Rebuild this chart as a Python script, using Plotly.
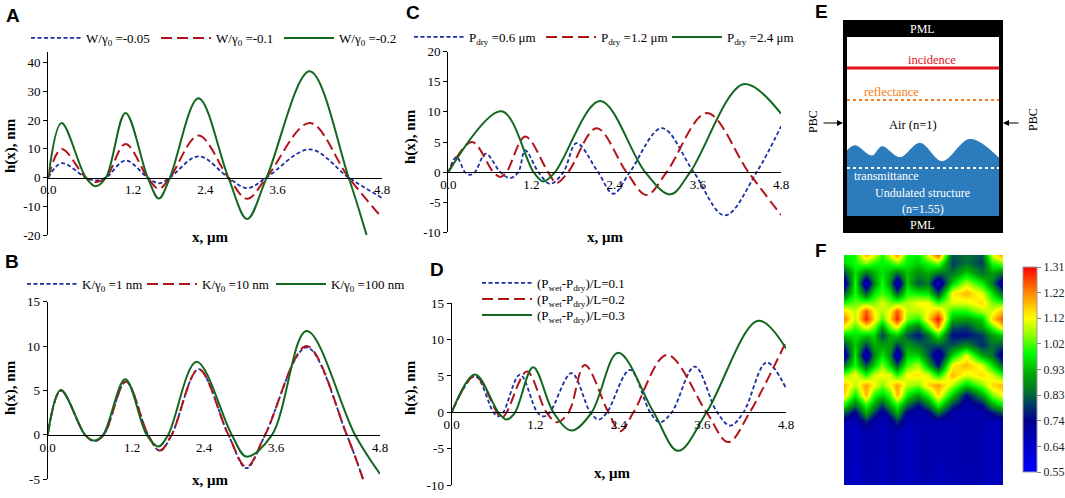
import plotly.graph_objects as go

W, H = 1065, 498

# ---------------- values ----------------
x_tick_text = ["0.0", "1.2", "2.4", "3.6", "4.8"]
x_ticks_ab = [0, 1.22, 2.26, 3.3, 4.8]   # in A and B the labels sit left of the true values
x_ticks_cd = [0, 1.2, 2.4, 3.6, 4.8]

# A : W/gamma0
a_x = [0, 0.19, 0.54, 0.68, 0.83, 1.11, 1.43, 1.59, 1.75, 2.16, 2.59, 2.86, 3.14, 3.76, 4.32, 4.80]
a_blue = [0, 5.0, 0, -1.0, 0, 5.9, 0, -2.0, 0, 7.4, 0, -3.7, 0, 9.8, 0, -7.1]
a_red = [0, 9.9, 0, -1.6, 0, 11.7, 0, -3.9, 0, 14.6, 0, -7.4, 0, 19.0, 0, -14.0]
a_green_x = [0, 0.19, 0.54, 0.68, 0.83, 1.11, 1.43, 1.59, 1.75, 2.16, 2.59, 2.86, 3.14, 3.76, 4.32, 4.58]
a_green = [0, 19.0, 0, -3.0, 0, 22.5, 0, -7.3, 0, 27.6, 0, -14.4, 0, 37.0, 0, -20.2]
a_names = ["W/γ<sub>0</sub> =-0.05", "W/γ<sub>0</sub> =-0.1", "W/γ<sub>0</sub> =-0.2"]
a_yticks = [-20, -10, 0, 10, 20, 30, 40]

# B : K/gamma0
b_x = [0, 0.19, 0.54, 0.67, 0.81, 1.13, 1.45, 1.62, 1.79, 2.18, 2.61, 2.87, 3.14, 3.74, 4.32, 4.56]
b_blue = [0, 5.0, 0, -0.7, 0, 6.0, 0, -1.8, 0, 7.4, 0, -3.75, 0, 9.85, 0, -5.1]
b_red = [0, 5.0, 0, -0.7, 0, 6.0, 0, -1.75, 0, 7.4, 0, -3.6, 0, 10.0, 0, -5.1]
b_green_x = [0, 0.19, 0.54, 0.67, 0.80, 1.12, 1.43, 1.60, 1.74, 2.15, 2.66, 2.87, 3.24, 3.74, 4.44, 4.80]
b_green = [0, 5.06, 0, -0.64, 0, 6.26, 0, -1.31, 0, 8.25, 0, -2.44, 0, 11.7, 0, -4.39]
b_names = ["K/γ<sub>0</sub> =1 nm", "K/γ<sub>0</sub> =10 nm", "K/γ<sub>0</sub> =100 nm"]
b_yticks = [-5, 0, 5, 10, 15]

# C : P_dry
c_blue_x = [0, 0.12, 0.24, 0.31, 0.385, 0.54, 0.75, 0.89, 1.01, 1.11, 1.30, 1.47, 1.66, 1.85,
            2.16, 2.38, 2.62, 3.08, 3.54, 3.99, 4.45, 4.80]
c_blue = [0, 2.5, 0, -0.45, 0, 3.05, 0, -1.0, 0, 3.6, 0, -1.95, 0, 4.8,
          0, -3.6, 0, 7.3, 0, -7.2, 0, 7.6]
c_red_x = [0, 0.34, 0.65, 0.75, 0.84, 1.11, 1.44, 1.56, 1.73, 2.14, 2.57, 2.86, 3.15, 3.73, 4.33, 4.80]
c_red = [0, 5.0, 0, -0.8, 0, 5.9, 0, -1.8, 0, 7.3, 0, -3.8, 0, 9.8, 0, -7.1]
c_green_x = [0, 0.77, 1.23, 1.37, 1.54, 2.19, 2.84, 3.20, 3.49, 4.26, 4.80]
c_green = [0, 10.1, 0, -1.55, 0, 11.8, 0, -3.7, 0, 14.6, 9.7]
c_names = ["P<sub>dry</sub> =0.6 μm", "P<sub>dry</sub> =1.2 μm", "P<sub>dry</sub> =2.4 μm"]
c_yticks = [-10, -5, 0, 5, 10, 15, 20]

# D : (P_wet-P_dry)/L
d_blue_x = [0, 0.335, 0.60, 0.67, 0.74, 0.98, 1.23, 1.32, 1.41, 1.72, 1.99, 2.11, 2.23, 2.56,
            2.85, 2.99, 3.16, 3.49, 3.81, 4.00, 4.19, 4.52, 4.80]
d_blue = [0, 5.0, 0, -0.55, 0, 5.2, 0, -0.55, 0, 5.4, 0, -1.0, 0, 5.85,
          0, -1.37, 0, 6.3, 0, -1.83, 0, 6.86, 3.3]
d_red_x = [0, 0.335, 0.65, 0.72, 0.79, 1.08, 1.36, 1.51, 1.68, 1.91, 2.25, 2.42, 2.61, 3.09,
           3.66, 3.97, 4.28, 4.80]
d_red = [0, 5.0, 0, -0.78, 0, 5.6, 0, -1.37, 0, 6.5, 0, -2.6, 0, 7.9, 0, -4.1, 0, 9.7]
d_green_x = [0, 0.335, 0.67, 0.79, 0.91, 1.17, 1.46, 1.72, 2.01, 2.39, 2.90, 3.25, 3.66, 4.40, 4.80]
d_green = [0, 5.2, 0, -1.0, 0, 6.2, 0, -2.5, 0, 8.2, 0, -5.3, 0, 12.6, 8.8]
d_names = ["(P<sub>wet</sub>-P<sub>dry</sub>)/L=0.1", "(P<sub>wet</sub>-P<sub>dry</sub>)/L=0.2",
           "(P<sub>wet</sub>-P<sub>dry</sub>)/L=0.3"]
d_yticks = [-10, -5, 0, 5, 10, 15]

# E : surface profile of the undulated structure (box units, y down)
e_wave_x = [4, 12, 29, 39, 57, 77, 99, 127, 156]
e_wave_y = [130.7, 125.7, 136, 126.7, 137.7, 123.3, 141.7, 119.3, 138.3]

# F : field map, sampled on a coarse grid (column positions / row positions, y down)
f_x = [0, 11, 22, 30, 38, 46, 53, 63, 74, 84, 94, 108, 122, 138, 148, 159]
f_y = [0, 8, 18, 28, 38, 48, 56, 64, 72, 80, 90, 100, 110, 120, 130, 140, 150, 158, 166, 176, 200, 230]
f_cols = [
    [0.98, 0.95, 0.80, 0.68, 0.82, 1.00, 1.15, 1.22, 1.12, 0.95, 0.80, 0.68, 0.85, 1.05, 1.18, 1.15, 0.98, 0.82, 0.70, 0.69, 0.69, 0.68],
    [1.00, 1.00, 0.97, 1.00, 1.00, 1.04, 1.08, 1.08, 1.02, 0.97, 0.95, 0.98, 1.00, 1.12, 1.08, 0.98, 0.85, 0.72, 0.68, 0.66, 0.66, 0.65],
    [1.18, 1.05, 0.85, 0.64, 0.82, 1.05, 1.25, 1.29, 1.12, 0.95, 0.80, 0.64, 0.82, 1.00, 1.20, 1.18, 1.00, 0.92, 0.78, 0.69, 0.69, 0.68],
    [1.10, 1.00, 0.92, 0.88, 0.97, 1.05, 1.12, 1.15, 1.05, 0.96, 0.92, 0.88, 0.95, 1.10, 1.12, 1.00, 0.90, 0.80, 0.70, 0.69, 0.69, 0.69],
    [1.00, 0.98, 0.97, 1.00, 1.02, 1.10, 1.08, 1.02, 0.90, 0.80, 0.90, 0.97, 1.05, 1.12, 1.05, 0.95, 0.80, 0.70, 0.68, 0.67, 0.67, 0.66],
    [1.10, 1.00, 0.92, 0.88, 0.97, 1.05, 1.12, 1.15, 1.05, 0.92, 0.90, 0.88, 0.95, 1.10, 1.12, 1.02, 0.92, 0.80, 0.70, 0.69, 0.69, 0.69],
    [1.20, 1.05, 0.85, 0.64, 0.82, 1.05, 1.25, 1.29, 1.12, 0.95, 0.80, 0.64, 0.82, 1.00, 1.20, 1.18, 1.00, 0.92, 0.80, 0.69, 0.69, 0.68],
    [1.00, 0.98, 0.94, 0.95, 1.00, 1.08, 1.08, 1.05, 0.92, 0.82, 0.90, 0.95, 1.02, 1.12, 1.08, 0.98, 0.85, 0.72, 0.68, 0.66, 0.66, 0.66],
    [0.98, 0.95, 0.88, 0.82, 0.98, 1.12, 1.08, 1.00, 0.85, 0.76, 0.85, 0.95, 1.08, 1.14, 1.05, 0.90, 0.75, 0.69, 0.69, 0.69, 0.69, 0.68],
    [1.10, 1.00, 0.92, 0.86, 0.97, 1.12, 1.12, 1.15, 1.02, 0.85, 0.82, 0.82, 0.92, 1.10, 1.15, 1.00, 0.85, 0.72, 0.69, 0.69, 0.69, 0.69],
    [1.25, 1.05, 0.85, 0.64, 0.80, 1.02, 1.18, 1.30, 1.20, 1.00, 0.82, 0.66, 0.75, 0.98, 1.20, 1.15, 1.00, 0.85, 0.70, 0.68, 0.68, 0.67],
    [0.82, 0.80, 0.85, 0.95, 1.12, 1.10, 1.00, 0.92, 0.82, 0.75, 0.82, 0.95, 1.12, 1.18, 1.08, 0.95, 0.80, 0.70, 0.69, 0.69, 0.69, 0.68],
    [0.85, 0.85, 0.95, 1.08, 1.18, 1.10, 1.00, 0.90, 0.80, 0.75, 0.88, 1.10, 1.18, 1.10, 0.95, 0.75, 0.69, 0.69, 0.69, 0.69, 0.69, 0.69],
    [0.82, 0.80, 0.85, 0.98, 1.10, 1.15, 1.08, 0.95, 0.90, 0.80, 0.78, 0.90, 1.10, 1.15, 1.05, 0.90, 0.75, 0.69, 0.69, 0.69, 0.69, 0.68],
    [1.10, 1.00, 0.90, 0.86, 0.97, 1.05, 1.10, 1.15, 1.02, 0.90, 0.85, 0.85, 0.97, 1.10, 1.15, 1.05, 0.90, 0.75, 0.68, 0.66, 0.66, 0.66],
    [1.20, 1.05, 0.85, 0.66, 0.82, 1.02, 1.18, 1.26, 1.15, 0.95, 0.82, 0.68, 0.82, 1.00, 1.18, 1.12, 0.98, 0.82, 0.70, 0.69, 0.69, 0.68],
]
f_z = [list(r) for r in zip(*f_cols)]
cb_vals = [0.55, 0.645, 0.74, 0.835, 0.93, 1.025, 1.12, 1.215, 1.31]
cb_text = ["0.55", "0.64", "0.74", "0.83", "0.93", "1.02", "1.12", "1.22", "1.31"]

# ---------------- styling ----------------
BLUE, RED, GREEN = "#1c2fa3", "#b3141c", "#13681f"
SERIF = "Liberation Serif"
SANS = "Liberation Sans"
tick_font = dict(family=SERIF, size=13, color="black")
styles = [dict(color=BLUE, width=1.8, dash="4px,2.5px"),
          dict(color=RED, width=2, dash="11px,5px"),
          dict(color=GREEN, width=2)]

fig = go.Figure()

# pixel boxes of the four line charts: left, top, right, bottom
boxes = {1: (48.3, 51.7, 382, 235), 2: (47.7, 301.7, 380, 479.3),
         3: (448.3, 51.7, 781, 232.3), 4: (451.7, 303.3, 786, 485)}
yranges = {1: [-20, 43.8], 2: [-5, 15], 3: [-10, 20], 4: [-10, 15]}
yticks = {1: a_yticks, 2: b_yticks, 3: c_yticks, 4: d_yticks}
xticks = {1: x_ticks_ab, 2: x_ticks_ab, 3: x_ticks_cd, 4: x_ticks_cd}

series = {
    1: [(a_x, a_blue), (a_x, a_red), (a_green_x, a_green)],
    2: [(b_x, b_blue), (b_x, b_red), (b_green_x, b_green)],
    3: [(c_blue_x, c_blue), (c_red_x, c_red), (c_green_x, c_green)],
    4: [(d_blue_x, d_blue), (d_red_x, d_red), (d_green_x, d_green)],
}
names = {1: a_names, 2: b_names, 3: c_names, 4: d_names}
# where each legend sample line starts (px) and its row centre
leg_spots = {1: [(32, 38), (162, 38), (285, 38)],
             2: [(28, 284), (148, 284), (277, 284)],
             3: [(415, 37), (547, 37), (673, 37)],
             4: [(483, 283), (483, 299), (483, 315)]}

layout = {}
leg_no = 0
for n in range(1, 5):
    sfx = "" if n == 1 else str(n)
    x0, y0, x1, y1 = boxes[n]
    dy = [1 - y1 / H, 1 - y0 / H]
    yr = yranges[n]
    pos = dy[0] + (0 - yr[0]) / (yr[1] - yr[0]) * (dy[1] - dy[0])
    layout["xaxis" + sfx] = dict(domain=[x0 / W, x1 / W], range=[0, 4.8], anchor="free", position=pos,
                                 showline=True, linecolor="black", linewidth=1.3, ticks="",
                                 tickvals=xticks[n], ticktext=x_tick_text, tickfont=tick_font,
                                 showgrid=False, zeroline=False, fixedrange=True)
    layout["yaxis" + sfx] = dict(domain=dy, range=yr, anchor="x" + sfx, showline=True,
                                 linecolor="black", linewidth=1.3, ticks="outside", ticklen=4,
                                 tickcolor="black", tickvals=yticks[n],
                                 ticktext=[str(v) for v in yticks[n]], tickfont=tick_font,
                                 showgrid=False, zeroline=False)
    for (xs, ys), st, nm, (lx, ly) in zip(series[n], styles, names[n], leg_spots[n]):
        leg_no += 1
        lid = "legend" if leg_no == 1 else "legend%d" % leg_no
        layout[lid] = dict(bgcolor="rgba(0,0,0,0)", font=dict(family=SERIF, size=13, color="black"),
                           itemwidth=50, xanchor="left", yanchor="middle",
                           x=(lx - 6) / W, y=1 - ly / H)
        fig.add_trace(go.Scatter(x=xs, y=ys, mode="lines", name=nm,
                                 line=dict(shape="spline", smoothing=1, **st),
                                 xaxis="x" + sfx, yaxis="y" + sfx, legend=lid))

# ---------------- E : simulation box ----------------
layout["xaxis5"] = dict(domain=[843 / W, 1003 / W], range=[0, 160], visible=False, fixedrange=True)
layout["yaxis5"] = dict(domain=[1 - 233 / H, 1 - 20 / H], range=[213, 0], visible=False, anchor="x5")
fig.add_trace(go.Scatter(x=[e_wave_x[0], e_wave_x[-1]], y=[196, 196], mode="lines", line=dict(width=0),
                         showlegend=False, xaxis="x5", yaxis="y5", hoverinfo="skip"))
fig.add_trace(go.Scatter(x=e_wave_x, y=e_wave_y, mode="lines", fill="tonexty", fillcolor="#2b7bbd",
                         line=dict(color="#2b7bbd", width=1, shape="spline"), showlegend=False,
                         xaxis="x5", yaxis="y5", hoverinfo="skip"))

shapes = [
    dict(type="rect", xref="x5", yref="y5", x0=0, x1=160, y0=0, y1=213, fillcolor="black",
         line=dict(width=0), layer="below"),
    dict(type="rect", xref="x5", yref="y5", x0=4, x1=156, y0=17, y1=196, fillcolor="white",
         line=dict(width=0), layer="below"),
    dict(type="line", xref="x5", yref="y5", x0=4, x1=156, y0=48, y1=48, line=dict(color="#e3141b", width=3)),
    dict(type="line", xref="x5", yref="y5", x0=4, x1=156, y0=80, y1=80,
         line=dict(color="#f47c20", width=2, dash="dot")),
    dict(type="line", xref="x5", yref="y5", x0=4, x1=156, y0=148, y1=148,
         line=dict(color="white", width=2, dash="dot")),
]

ann = []


def txt(x, y, s, size=13, color="black", family=SERIF, angle=0, xref="paper", yref="paper"):
    if xref == "paper":
        x, y = x / W, 1 - y / H
    ann.append(dict(x=x, y=y, xref=xref, yref=yref, text=s, showarrow=False, textangle=angle,
                    font=dict(family=family, size=size, color=color), xanchor="center", yanchor="middle"))


for s, (x, y) in zip("ABCDEF", [(12.5, 15), (11.5, 261), (413, 13), (437, 269), (821, 11), (821, 250)]):
    txt(x, y, "<b>%s</b>" % s, size=19, family=SANS)

for (x, y) in [(10, 146), (10, 388), (410, 137), (410, 388)]:
    txt(x, y, "<b>h(x), nm</b>", size=15, angle=-90)
for (x, y) in [(210, 237), (210, 480), (605, 237), (612, 473)]:
    txt(x, y, "<b>x, μm</b>", size=15)

e_ref = dict(xref="x5", yref="y5")
txt(80, 9, "PML", 12, "white", **e_ref)
txt(80, 205, "PML", 12, "white", **e_ref)
txt(89, 40, "incidence", 12.5, "#e3141b", **e_ref)
txt(49, 72, "reflectance", 12.5, "#f47c20", **e_ref)
txt(70, 105, "Air (n=1)", 12.5, "black", **e_ref)
txt(44, 156, "transmittance", 12, "white", **e_ref)
txt(80, 173, "Undulated structure", 12, "white", **e_ref)
txt(80, 189, "(n=1.55)", 12, "white", **e_ref)
txt(813, 122, "PBC", 12, "black", angle=-90)
txt(1033, 120, "PBC", 12, "black", angle=-90)
for tip, tail in [(0, -21), (160, 177)]:
    ann.append(dict(x=tip, y=103, ax=tail, ay=103, xref="x5", yref="y5", axref="x5", ayref="y5",
                    text="", showarrow=True, arrowhead=2, arrowsize=1, arrowwidth=1.2, arrowcolor="black"))

# ---------------- F : field map ----------------
jet_like = [[0.0, "rgb(0,0,255)"], [0.12, "rgb(0,0,205)"], [0.25, "rgb(0,0,140)"],
            [0.33, "rgb(0,60,100)"], [0.40, "rgb(0,120,40)"], [0.48, "rgb(0,170,0)"],
            [0.58, "rgb(0,255,0)"], [0.66, "rgb(130,255,0)"], [0.75, "rgb(255,255,0)"],
            [0.86, "rgb(255,150,0)"], [1.0, "rgb(255,0,0)"]]
layout["xaxis6"] = dict(domain=[844 / W, 1003 / W], range=[0, 159], visible=False, fixedrange=True)
layout["yaxis6"] = dict(domain=[1 - 485 / H, 1 - 255 / H], range=[230, 0], visible=False, anchor="x6")
fig.add_trace(go.Heatmap(x=f_x, y=f_y, z=f_z, zmin=0.55, zmax=1.31, zsmooth="best", colorscale=jet_like,
                         xaxis="x6", yaxis="y6", hoverinfo="skip",
                         colorbar=dict(x=1023 / W, xanchor="left", xpad=0, y=1 - 369.5 / H, yanchor="middle",
                                       len=225 / H, lenmode="fraction", thickness=14,
                                       outlinewidth=1, outlinecolor="#9a9a9a",
                                       tickvals=cb_vals, ticktext=cb_text, ticks="outside", ticklen=4,
                                       tickcolor="#888", tickfont=dict(family=SERIF, size=12, color="#222"))))

fig.update_layout(width=W, height=H, margin=dict(l=0, r=0, t=0, b=0, autoexpand=False),
                  paper_bgcolor="white", plot_bgcolor="white", shapes=shapes, annotations=ann, **layout)

# the page's default body margin would push the figure 8px off the window
fig.write_html("out.html", config={"displayModeBar": False},
               post_script="document.body.style.margin='0px';")
